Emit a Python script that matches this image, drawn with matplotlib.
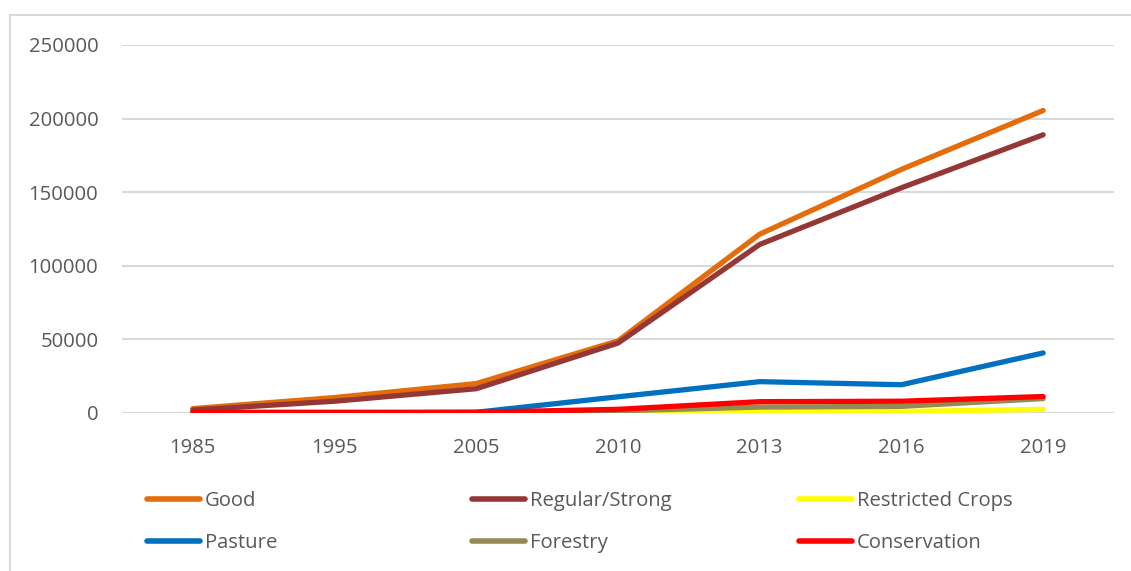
import matplotlib
matplotlib.use("Agg")
import matplotlib.pyplot as plt
from matplotlib.lines import Line2D

years = ["1985", "1995", "2005", "2010", "2013", "2016", "2019"]

good = [3000, 10500, 20000, 49000, 121500, 165500, 205500]
regular_strong = [2000, 8000, 16500, 47500, 114500, 153000, 189000]
restricted_crops = [0, 0, 0, 300, 700, 1000, 2500]
pasture = [0, 0, 500, 11000, 21300, 19200, 40800]
forestry = [0, 0, 0, 1500, 4000, 4500, 9800]
conservation = [500, 500, 500, 2500, 7700, 8000, 11200]

series_names = ["Good", "Regular/Strong", "Restricted Crops",
                "Pasture", "Forestry", "Conservation"]
series_values = [good, regular_strong, restricted_crops,
                 pasture, forestry, conservation]
series_colors = ["#E46C0A", "#953735", "#FFFF00",
                 "#0070C0", "#948A54", "#FF0000"]

y_ticks = [0, 50000, 100000, 150000, 200000, 250000]

plt.rcParams["font.family"] = ["Open Sans", "DejaVu Sans"]
text_color = "#595959"
fs = 14.6

W, H = 1131, 571
fig = plt.figure(figsize=(W / 100, H / 100), dpi=100)
fig.patch.set_facecolor("white")

# chart-area border (left and top edges)
fig.add_artist(Line2D([10 / W, 10 / W], [0, 1 - 15 / H],
                      color="#d9d9d9", lw=1.5, transform=fig.transFigure))
fig.add_artist(Line2D([10 / W, 1], [1 - 15 / H, 1 - 15 / H],
                      color="#d9d9d9", lw=1.5, transform=fig.transFigure))

ax = fig.add_axes([122 / W, 1 - 413 / H, (1114 - 122) / W, (413 - 45) / H])
x = list(range(len(years)))

handles = []
for name, vals, col in zip(series_names, series_values, series_colors):
    (ln,) = ax.plot(x, vals, color=col, lw=3.8, solid_capstyle="round",
                    solid_joinstyle="round", label=name, zorder=3)
    handles.append(ln)

ax.set_xlim(-0.5, len(years) - 0.5)
ax.set_ylim(0, 250000)
ax.set_yticks(y_ticks)
ax.set_yticklabels([str(v) for v in y_ticks])
ax.set_xticks(x)
ax.set_xticklabels(years)
ax.yaxis.grid(True, color="#d9d9d9", lw=1.5, zorder=0)
ax.set_axisbelow(True)
for s in ax.spines.values():
    s.set_visible(False)
ax.tick_params(axis="both", length=0, labelsize=fs, colors=text_color)
ax.tick_params(axis="y", pad=17)
ax.tick_params(axis="x", pad=18)
ax.axhline(0, color="#d9d9d9", lw=1.5, zorder=1)

# legend laid out in three evenly spaced columns
col_x = [147, 472, 799]
for i, cx in enumerate(col_x):
    leg = fig.legend(handles=[handles[i], handles[i + 3]],
                     loc="upper left",
                     bbox_to_anchor=(cx / W, 1 - 491 / H),
                     frameon=False, fontsize=fs, handlelength=2.6,
                     handletextpad=0.25, labelspacing=1.1,
                     borderaxespad=0, borderpad=0, labelcolor=text_color)
    for ln in leg.get_lines():
        ln.set_linewidth(4.0)

fig.savefig("out.png", dpi=100)
